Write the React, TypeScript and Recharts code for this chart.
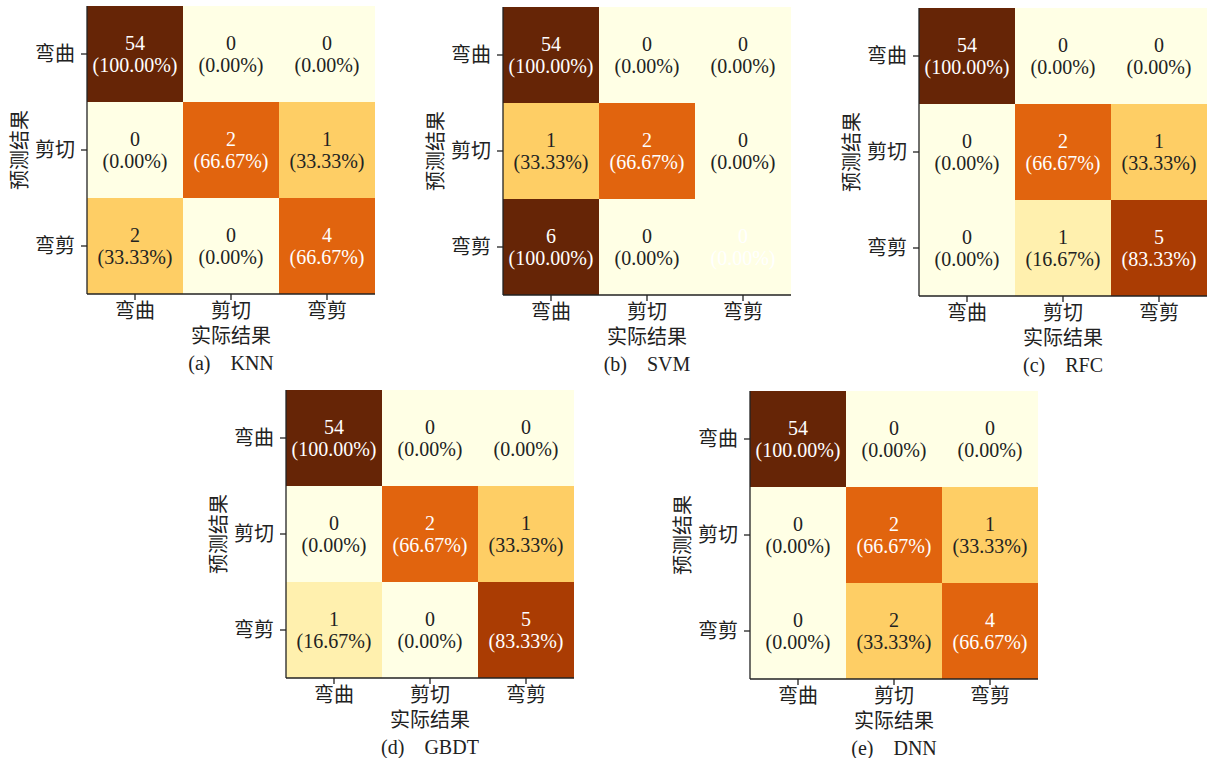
import React from "react";
import { BarChart, Bar, XAxis, YAxis } from "recharts";

// class order: rows = predicted (top -> bottom), columns = actual (left -> right)
const CLASSES = ["弯曲", "剪切", "弯剪"];

const knnCounts = [
  [54, 0, 0],
  [0, 2, 1],
  [2, 0, 4],
];
const svmCounts = [
  [54, 0, 0],
  [1, 2, 0],
  [6, 0, 0],
];
const rfcCounts = [
  [54, 0, 0],
  [0, 2, 1],
  [0, 1, 5],
];
const gbdtCounts = [
  [54, 0, 0],
  [0, 2, 1],
  [1, 0, 5],
];
const dnnCounts = [
  [54, 0, 0],
  [0, 2, 1],
  [0, 2, 4],
];

// cells whose annotation is drawn in white although the cell is pale (as in the source figure)
const svmWhiteText = [[2, 2]];

const panelTags = ["(a)", "(b)", "(c)", "(d)", "(e)"];
const panelNames = ["KNN", "SVM", "RFC", "GBDT", "DNN"];
const panelCounts = [knnCounts, svmCounts, rfcCounts, gbdtCounts, dnnCounts];
const panelWhite: number[][][] = [[], svmWhiteText, [], [], []];
// top-left corner of every panel on the page
const panelPos = [
  [0, 0],
  [416, 1],
  [832, 2],
  [199, 384],
  [663, 385],
];

const FONT = "'Liberation Serif', 'Noto Sans CJK SC', serif";
const INK = "#222";
const PLOT = 288;
const LEFT = 87;

// matplotlib YlOrBr
const YLORBR = ["#ffffe5", "#fff7bc", "#fee391", "#fec44f", "#fe9929", "#ec7014", "#cc4c02", "#993404", "#662506"];
const hex = (h: string) => [1, 3, 5].map((i) => parseInt(h.slice(i, i + 2), 16));
const cmap = (t: number) => {
  const p = Math.max(0, Math.min(1, t)) * (YLORBR.length - 1);
  const i = Math.min(Math.floor(p), YLORBR.length - 2);
  const f = p - i;
  const a = hex(YLORBR[i]);
  const b = hex(YLORBR[i + 1]);
  const c = a.map((v, k) => Math.round(v + (b[k] - v) * f));
  return `rgb(${c[0]},${c[1]},${c[2]})`;
};

const MatrixCell = (props: any) => {
  const { x, y, width, height, index, counts, row, white } = props;
  const total = counts[row].reduce((s: number, v: number) => s + v, 0);
  const n = counts[row][index];
  const pct = total ? n / total : 0;
  const light = pct > 0.5 || white.some((c: number[]) => c[0] === row && c[1] === index);
  const cx = x + width / 2;
  const cy = y + height / 2;
  return (
    <g>
      <rect x={x} y={y} width={width} height={height} fill={cmap(pct)} shapeRendering="crispEdges" />
      <text x={cx} y={cy - 11} textAnchor="middle" dominantBaseline="central" fontSize={20} fill={light ? "#fff" : INK} fontFamily={FONT}>
        {n}
      </text>
      <text x={cx} y={cy + 11} textAnchor="middle" dominantBaseline="central" fontSize={20} fill={light ? "#fff" : INK} fontFamily={FONT}>
        {`(${(pct * 100).toFixed(2)}%)`}
      </text>
    </g>
  );
};

const XTitle = (props: any) => {
  const vb = props.viewBox || {};
  return (
    <text x={vb.x + vb.width / 2} y={vb.y + 42} textAnchor="middle" dominantBaseline="central" fontSize={20} fill={INK} fontFamily={FONT}>
      实际结果
    </text>
  );
};

const YTitle = (props: any) => {
  const vb = props.viewBox || {};
  const x = vb.x + 20;
  const y = vb.y + vb.height / 2;
  return (
    <text x={x} y={y} transform={`rotate(-90, ${x}, ${y})`} textAnchor="middle" dominantBaseline="central" fontSize={20} fill={INK} fontFamily={FONT}>
      预测结果
    </text>
  );
};

const Panel = ({ idx }: { idx: number }) => {
  const counts = panelCounts[idx];
  const white = panelWhite[idx];
  // one stacked unit per cell; colour and text come from the counts
  const table = CLASSES.map((name) => {
    const row: any = { name };
    CLASSES.forEach((_, i) => (row[`p${i}`] = 1));
    return row;
  });
  const tickStyle = { fontSize: 20, fill: INK, fontFamily: FONT };
  return (
    <div style={{ position: "absolute", left: panelPos[idx][0], top: panelPos[idx][1], width: 380, height: 375 }}>
      <BarChart
        width={380}
        height={354}
        data={table}
        margin={{ top: 6, right: 5, left: 0, bottom: 0 }}
        barCategoryGap={0}
        barGap={0}
      >
        <XAxis
          xAxisId="b"
          dataKey="name"
          height={60}
          tick={tickStyle}
          tickSize={6}
          tickMargin={4}
          stroke={INK}
          strokeWidth={1.3}
          label={<XTitle />}
        />
        <XAxis xAxisId="t" dataKey="name" orientation="top" height={0} tick={false} tickLine={false} stroke={INK} strokeWidth={1.3} />
        <YAxis
          yAxisId="l"
          type="number"
          domain={[0, 3]}
          ticks={[0.5, 1.5, 2.5]}
          tickFormatter={(v: number) => CLASSES[2 - Math.floor(v)]}
          width={LEFT}
          tick={tickStyle}
          tickSize={6}
          tickMargin={6}
          stroke={INK}
          strokeWidth={1.3}
          label={<YTitle />}
        />
        <YAxis yAxisId="r" orientation="right" type="number" domain={[0, 3]} width={0} tick={false} tickLine={false} stroke={INK} strokeWidth={1.3} />
        {[2, 1, 0].map((i) => (
          <Bar
            key={i}
            dataKey={`p${i}`}
            stackId="m"
            xAxisId="b"
            yAxisId="l"
            isAnimationActive={false}
            shape={(p: any) => <MatrixCell {...p} counts={counts} row={i} white={white} />}
          />
        ))}
      </BarChart>
      <div
        style={{
          position: "absolute",
          left: LEFT,
          width: PLOT,
          top: 351,
          lineHeight: "24px",
          textAlign: "center",
          fontFamily: FONT,
          fontSize: 20,
          color: INK,
          whiteSpace: "pre",
        }}
      >
        {`${panelTags[idx]}\u2003${panelNames[idx]}`}
      </div>
    </div>
  );
};

export default function App() {
  return (
    <div style={{ position: "absolute", left: 0, top: 0, width: 1211, height: 758, background: "#fff", overflow: "hidden" }}>
      {panelNames.map((_, i) => (
        <Panel key={i} idx={i} />
      ))}
    </div>
  );
}
